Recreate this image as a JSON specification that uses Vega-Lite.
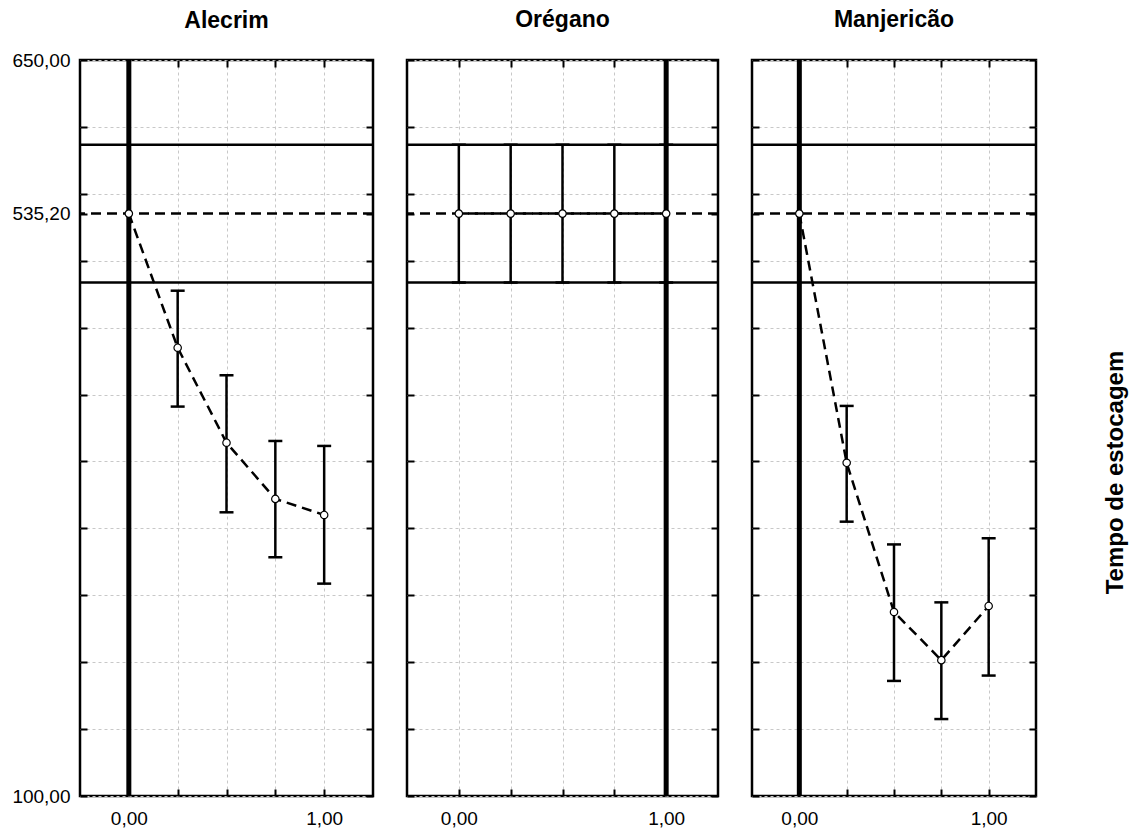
{
  "$schema": "https://vega.github.io/schema/vega-lite/v6.json",
  "padding": {"left": 10, "top": 7, "right": 4, "bottom": 2},
  "background": "white",
  "config": {
    "font": "Liberation Sans",
    "view": {"stroke": "black", "strokeWidth": 2.5},
    "axis": {"labelFont": "Liberation Sans", "labelColor": "black", "labelFontSize": 19, "domain": false, "titleFont": "Liberation Sans", "gridColor": "#c8c8c8", "gridDash": [3, 3], "gridWidth": 1, "tickColor": "black", "tickWidth": 2},
    "title": {"font": "Liberation Sans", "fontSize": 23, "fontWeight": "bold", "color": "black", "anchor": "middle", "frame": "group", "baseline": "alphabetic", "offset": 26}
  },
  "datasets": {
    "medias": [
      {"painel": "Alecrim", "x": 0, "m": 535.2, "lo": null, "hi": null},
      {"painel": "Alecrim", "x": 0.25, "m": 435, "lo": 391, "hi": 477.6},
      {"painel": "Alecrim", "x": 0.5, "m": 364, "lo": 312, "hi": 414.4},
      {"painel": "Alecrim", "x": 0.75, "m": 322, "lo": 278.4, "hi": 365.3},
      {"painel": "Alecrim", "x": 1, "m": 310, "lo": 258.7, "hi": 361.6},
      {"painel": "Orégano", "x": 0, "m": 535.2, "lo": 483.7, "hi": 586.7},
      {"painel": "Orégano", "x": 0.25, "m": 535.2, "lo": 483.7, "hi": 586.7},
      {"painel": "Orégano", "x": 0.5, "m": 535.2, "lo": 483.7, "hi": 586.7},
      {"painel": "Orégano", "x": 0.75, "m": 535.2, "lo": 483.7, "hi": 586.7},
      {"painel": "Orégano", "x": 1, "m": 535.2, "lo": 483.7, "hi": 586.7},
      {"painel": "Manjericão", "x": 0, "m": 535.2, "lo": null, "hi": null},
      {"painel": "Manjericão", "x": 0.25, "m": 349, "lo": 305, "hi": 391.5},
      {"painel": "Manjericão", "x": 0.5, "m": 237.5, "lo": 186, "hi": 288},
      {"painel": "Manjericão", "x": 0.75, "m": 201.5, "lo": 157.5, "hi": 244.7},
      {"painel": "Manjericão", "x": 1, "m": 242, "lo": 190, "hi": 292.6}
    ],
    "limites": [{"valor": 586.7}, {"valor": 483.7}],
    "media": [{"valor": 535.2}],
    "marco": [
      {"painel": "Alecrim", "x": 0},
      {"painel": "Orégano", "x": 1},
      {"painel": "Manjericão", "x": 0}
    ]
  },
  "spacing": 28,
  "hconcat": [
    {
      "width": 293, "height": 736,
      "title": {"text": "Alecrim", "offset": 18},
      "resolve": {"axis": {"x": "independent", "y": "independent"}},
      "layer": [
        {"data": {"name": "limites"}, "mark": {"type": "rule", "color": "black", "strokeWidth": 2.5},
         "encoding": {"y": {"field": "valor", "type": "quantitative", "scale": {"domain": [100, 650], "nice": false, "zero": false}, "axis": null}}},
        {"data": {"name": "media"}, "mark": {"type": "rule", "color": "black", "strokeWidth": 2.5, "strokeDash": [10, 6]},
         "encoding": {"y": {"field": "valor", "type": "quantitative", "scale": {"domain": [100, 650], "nice": false, "zero": false}, "axis": null}}},
        {"data": {"name": "marco"}, "transform": [{"filter": "datum.painel === 'Alecrim'"}], "mark": {"type": "rule", "color": "black", "strokeWidth": 5},
         "encoding": {"x": {"field": "x", "type": "quantitative", "scale": {"domain": [-0.25, 1.25], "nice": false, "zero": false}, "axis": null}}},
        {"data": {"name": "medias"}, "transform": [{"filter": "datum.painel === 'Alecrim'"}], "mark": {"type": "rule", "color": "black", "strokeWidth": 2.5},
         "encoding": {
           "x": {"field": "x", "type": "quantitative", "scale": {"domain": [-0.25, 1.25], "nice": false, "zero": false},
             "axis": {"orient": "top", "values": [0, 0.25, 0.5, 0.75, 1], "grid": true, "gridOpacity": 0, "ticks": true, "tickSize": -7, "labels": false, "title": null}},
           "y": {"field": "lo", "type": "quantitative", "scale": {"domain": [100, 650], "nice": false, "zero": false},
             "axis": {"orient": "left", "values": [100,150,200,250,300,350,400,450,500,550,600,650], "grid": true, "ticks": true, "tickSize": -7, "labels": false, "title": null}},
           "y2": {"field": "hi"}}},
        {"data": {"name": "medias"}, "transform": [{"filter": "datum.painel === 'Alecrim'"}], "mark": {"type": "tick", "orient": "horizontal", "color": "black", "size": 14, "thickness": 2.5, "opacity": 1},
         "encoding": {
           "x": {"field": "x", "type": "quantitative", "scale": {"domain": [-0.25, 1.25], "nice": false, "zero": false},
             "axis": {"orient": "bottom", "values": [0, 0.25, 0.5, 0.75, 1], "grid": true, "ticks": true, "tickSize": -7, "labels": false, "title": null}},
           "y": {"field": "hi", "type": "quantitative", "scale": {"domain": [100, 650], "nice": false, "zero": false},
             "axis": {"orient": "right", "values": [100,150,200,250,300,350,400,450,500,535.2,550,600,650], "grid": true, "gridOpacity": 0, "ticks": true, "tickSize": -7, "labels": false, "title": null}}}},
        {"data": {"name": "medias"}, "transform": [{"filter": "datum.painel === 'Alecrim'"}], "mark": {"type": "tick", "orient": "horizontal", "color": "black", "size": 14, "thickness": 2.5, "opacity": 1},
         "encoding": {
           "x": {"field": "x", "type": "quantitative", "scale": {"domain": [-0.25, 1.25], "nice": false, "zero": false},
             "axis": {"orient": "bottom", "values": [0, 1], "grid": true, "gridOpacity": 0, "ticks": false, "labels": true, "labelPadding": 13, "labelExpr": "replace(format(datum.value, '.2f'), '.', ',')", "title": null}},
           "y": {"field": "lo", "type": "quantitative", "scale": {"domain": [100, 650], "nice": false, "zero": false},
             "axis": {"orient": "left", "values": [100, 535.2, 650], "grid": true, "gridOpacity": 0, "ticks": false, "labels": true, "labelPadding": 10, "labelBaseline": "middle", "labelExpr": "replace(format(datum.value, '.2f'), '.', ',')", "title": null}}}},
        {"data": {"name": "medias"}, "transform": [{"filter": "datum.painel === 'Alecrim'"}], "mark": {"type": "line", "color": "black", "strokeWidth": 2.5, "strokeDash": [10, 6]},
         "encoding": {
           "x": {"field": "x", "type": "quantitative", "scale": {"domain": [-0.25, 1.25], "nice": false, "zero": false}, "axis": null},
           "y": {"field": "m", "type": "quantitative", "scale": {"domain": [100, 650], "nice": false, "zero": false},
             "axis": {"orient": "left", "values": [535.2], "grid": true, "gridOpacity": 0, "ticks": true, "tickSize": -7, "labels": false, "title": null}},
           "order": {"field": "x"}}},
        {"data": {"name": "medias"}, "transform": [{"filter": "datum.painel === 'Alecrim'"}], "mark": {"type": "point", "shape": "circle", "filled": true, "fill": "white", "stroke": "black", "strokeWidth": 1.2, "size": 55, "opacity": 1},
         "encoding": {
           "x": {"field": "x", "type": "quantitative", "scale": {"domain": [-0.25, 1.25], "nice": false, "zero": false}, "axis": null},
           "y": {"field": "m", "type": "quantitative", "scale": {"domain": [100, 650], "nice": false, "zero": false}, "axis": null}}}
      ]
    },
    {
      "width": 311, "height": 736,
      "title": {"text": "Orégano"},
      "resolve": {"axis": {"x": "independent", "y": "independent"}},
      "layer": [
        {"data": {"name": "limites"}, "mark": {"type": "rule", "color": "black", "strokeWidth": 2.5},
         "encoding": {"y": {"field": "valor", "type": "quantitative", "scale": {"domain": [100, 650], "nice": false, "zero": false}, "axis": null}}},
        {"data": {"name": "media"}, "mark": {"type": "rule", "color": "black", "strokeWidth": 2.5, "strokeDash": [10, 6]},
         "encoding": {"y": {"field": "valor", "type": "quantitative", "scale": {"domain": [100, 650], "nice": false, "zero": false}, "axis": null}}},
        {"data": {"name": "marco"}, "transform": [{"filter": "datum.painel === 'Orégano'"}], "mark": {"type": "rule", "color": "black", "strokeWidth": 5},
         "encoding": {"x": {"field": "x", "type": "quantitative", "scale": {"domain": [-0.25, 1.25], "nice": false, "zero": false}, "axis": null}}},
        {"data": {"name": "medias"}, "transform": [{"filter": "datum.painel === 'Orégano'"}], "mark": {"type": "rule", "color": "black", "strokeWidth": 2.5},
         "encoding": {
           "x": {"field": "x", "type": "quantitative", "scale": {"domain": [-0.25, 1.25], "nice": false, "zero": false},
             "axis": {"orient": "top", "values": [0, 0.25, 0.5, 0.75, 1], "grid": true, "gridOpacity": 0, "ticks": true, "tickSize": -7, "labels": false, "title": null}},
           "y": {"field": "lo", "type": "quantitative", "scale": {"domain": [100, 650], "nice": false, "zero": false},
             "axis": {"orient": "left", "values": [100,150,200,250,300,350,400,450,500,550,600,650], "grid": true, "ticks": true, "tickSize": -7, "labels": false, "title": null}},
           "y2": {"field": "hi"}}},
        {"data": {"name": "medias"}, "transform": [{"filter": "datum.painel === 'Orégano'"}], "mark": {"type": "tick", "orient": "horizontal", "color": "black", "size": 14, "thickness": 2.5, "opacity": 1},
         "encoding": {
           "x": {"field": "x", "type": "quantitative", "scale": {"domain": [-0.25, 1.25], "nice": false, "zero": false},
             "axis": {"orient": "bottom", "values": [0, 0.25, 0.5, 0.75, 1], "grid": true, "ticks": true, "tickSize": -7, "labels": false, "title": null}},
           "y": {"field": "hi", "type": "quantitative", "scale": {"domain": [100, 650], "nice": false, "zero": false},
             "axis": {"orient": "right", "values": [100,150,200,250,300,350,400,450,500,535.2,550,600,650], "grid": true, "gridOpacity": 0, "ticks": true, "tickSize": -7, "labels": false, "title": null}}}},
        {"data": {"name": "medias"}, "transform": [{"filter": "datum.painel === 'Orégano'"}], "mark": {"type": "tick", "orient": "horizontal", "color": "black", "size": 14, "thickness": 2.5, "opacity": 1},
         "encoding": {
           "x": {"field": "x", "type": "quantitative", "scale": {"domain": [-0.25, 1.25], "nice": false, "zero": false},
             "axis": {"orient": "bottom", "values": [0, 1], "grid": true, "gridOpacity": 0, "ticks": false, "labels": true, "labelPadding": 13, "labelExpr": "replace(format(datum.value, '.2f'), '.', ',')", "title": null}},
           "y": {"field": "lo", "type": "quantitative", "scale": {"domain": [100, 650], "nice": false, "zero": false}, "axis": null}}},
        {"data": {"name": "medias"}, "transform": [{"filter": "datum.painel === 'Orégano'"}], "mark": {"type": "line", "color": "black", "strokeWidth": 2.5, "strokeDash": [10, 6]},
         "encoding": {
           "x": {"field": "x", "type": "quantitative", "scale": {"domain": [-0.25, 1.25], "nice": false, "zero": false}, "axis": null},
           "y": {"field": "m", "type": "quantitative", "scale": {"domain": [100, 650], "nice": false, "zero": false},
             "axis": {"orient": "left", "values": [535.2], "grid": true, "gridOpacity": 0, "ticks": true, "tickSize": -7, "labels": false, "title": null}},
           "order": {"field": "x"}}},
        {"data": {"name": "medias"}, "transform": [{"filter": "datum.painel === 'Orégano'"}], "mark": {"type": "point", "shape": "circle", "filled": true, "fill": "white", "stroke": "black", "strokeWidth": 1.2, "size": 55, "opacity": 1},
         "encoding": {
           "x": {"field": "x", "type": "quantitative", "scale": {"domain": [-0.25, 1.25], "nice": false, "zero": false}, "axis": null},
           "y": {"field": "m", "type": "quantitative", "scale": {"domain": [100, 650], "nice": false, "zero": false}, "axis": null}}}
      ]
    },
    {
      "width": 284, "height": 736,
      "title": {"text": "Manjericão"},
      "resolve": {"axis": {"x": "independent", "y": "independent"}},
      "layer": [
        {"data": {"name": "limites"}, "mark": {"type": "rule", "color": "black", "strokeWidth": 2.5},
         "encoding": {"y": {"field": "valor", "type": "quantitative", "scale": {"domain": [100, 650], "nice": false, "zero": false}, "axis": null}}},
        {"data": {"name": "media"}, "mark": {"type": "rule", "color": "black", "strokeWidth": 2.5, "strokeDash": [10, 6]},
         "encoding": {"y": {"field": "valor", "type": "quantitative", "scale": {"domain": [100, 650], "nice": false, "zero": false}, "axis": null}}},
        {"data": {"name": "marco"}, "transform": [{"filter": "datum.painel === 'Manjericão'"}], "mark": {"type": "rule", "color": "black", "strokeWidth": 5},
         "encoding": {"x": {"field": "x", "type": "quantitative", "scale": {"domain": [-0.25, 1.25], "nice": false, "zero": false}, "axis": null}}},
        {"data": {"name": "medias"}, "transform": [{"filter": "datum.painel === 'Manjericão'"}], "mark": {"type": "rule", "color": "black", "strokeWidth": 2.5},
         "encoding": {
           "x": {"field": "x", "type": "quantitative", "scale": {"domain": [-0.25, 1.25], "nice": false, "zero": false},
             "axis": {"orient": "top", "values": [0, 0.25, 0.5, 0.75, 1], "grid": true, "gridOpacity": 0, "ticks": true, "tickSize": -7, "labels": false, "title": null}},
           "y": {"field": "lo", "type": "quantitative", "scale": {"domain": [100, 650], "nice": false, "zero": false},
             "axis": {"orient": "left", "values": [100,150,200,250,300,350,400,450,500,550,600,650], "grid": true, "ticks": true, "tickSize": -7, "labels": false, "title": null}},
           "y2": {"field": "hi"}}},
        {"data": {"name": "medias"}, "transform": [{"filter": "datum.painel === 'Manjericão'"}], "mark": {"type": "tick", "orient": "horizontal", "color": "black", "size": 14, "thickness": 2.5, "opacity": 1},
         "encoding": {
           "x": {"field": "x", "type": "quantitative", "scale": {"domain": [-0.25, 1.25], "nice": false, "zero": false},
             "axis": {"orient": "bottom", "values": [0, 0.25, 0.5, 0.75, 1], "grid": true, "ticks": true, "tickSize": -7, "labels": false, "title": null}},
           "y": {"field": "hi", "type": "quantitative", "scale": {"domain": [100, 650], "nice": false, "zero": false},
             "axis": {"orient": "right", "values": [100,150,200,250,300,350,400,450,500,535.2,550,600,650], "grid": true, "gridOpacity": 0, "ticks": true, "tickSize": -7, "labels": false, "title": null}}}},
        {"data": {"name": "medias"}, "transform": [{"filter": "datum.painel === 'Manjericão'"}], "mark": {"type": "tick", "orient": "horizontal", "color": "black", "size": 14, "thickness": 2.5, "opacity": 1},
         "encoding": {
           "x": {"field": "x", "type": "quantitative", "scale": {"domain": [-0.25, 1.25], "nice": false, "zero": false},
             "axis": {"orient": "bottom", "values": [0, 1], "grid": true, "gridOpacity": 0, "ticks": false, "labels": true, "labelPadding": 13, "labelExpr": "replace(format(datum.value, '.2f'), '.', ',')", "title": null}},
           "y": {"field": "lo", "type": "quantitative", "scale": {"domain": [100, 650], "nice": false, "zero": false}, "axis": null}}},
        {"data": {"name": "medias"}, "transform": [{"filter": "datum.painel === 'Manjericão'"}], "mark": {"type": "line", "color": "black", "strokeWidth": 2.5, "strokeDash": [10, 6]},
         "encoding": {
           "x": {"field": "x", "type": "quantitative", "scale": {"domain": [-0.25, 1.25], "nice": false, "zero": false}, "axis": null},
           "y": {"field": "m", "type": "quantitative", "scale": {"domain": [100, 650], "nice": false, "zero": false},
             "axis": {"orient": "left", "values": [535.2], "grid": true, "gridOpacity": 0, "ticks": true, "tickSize": -7, "labels": false, "title": null}},
           "order": {"field": "x"}}},
        {"data": {"name": "medias"}, "transform": [{"filter": "datum.painel === 'Manjericão'"}], "mark": {"type": "point", "shape": "circle", "filled": true, "fill": "white", "stroke": "black", "strokeWidth": 1.2, "size": 55, "opacity": 1},
         "encoding": {
           "x": {"field": "x", "type": "quantitative", "scale": {"domain": [-0.25, 1.25], "nice": false, "zero": false}, "axis": null},
           "y": {"field": "m", "type": "quantitative", "scale": {"domain": [100, 650], "nice": false, "zero": false},
             "axis": {"orient": "right", "values": [535.2], "grid": true, "gridOpacity": 0, "ticks": false, "labels": false, "title": "Tempo de estocagem", "titleFontSize": 24, "titleFontWeight": "bold", "titleColor": "black", "titleAngle": 270, "titleX": 79, "titleY": 412, "titleAlign": "center", "titleBaseline": "middle"}}}}
      ]
    }
  ]
}
